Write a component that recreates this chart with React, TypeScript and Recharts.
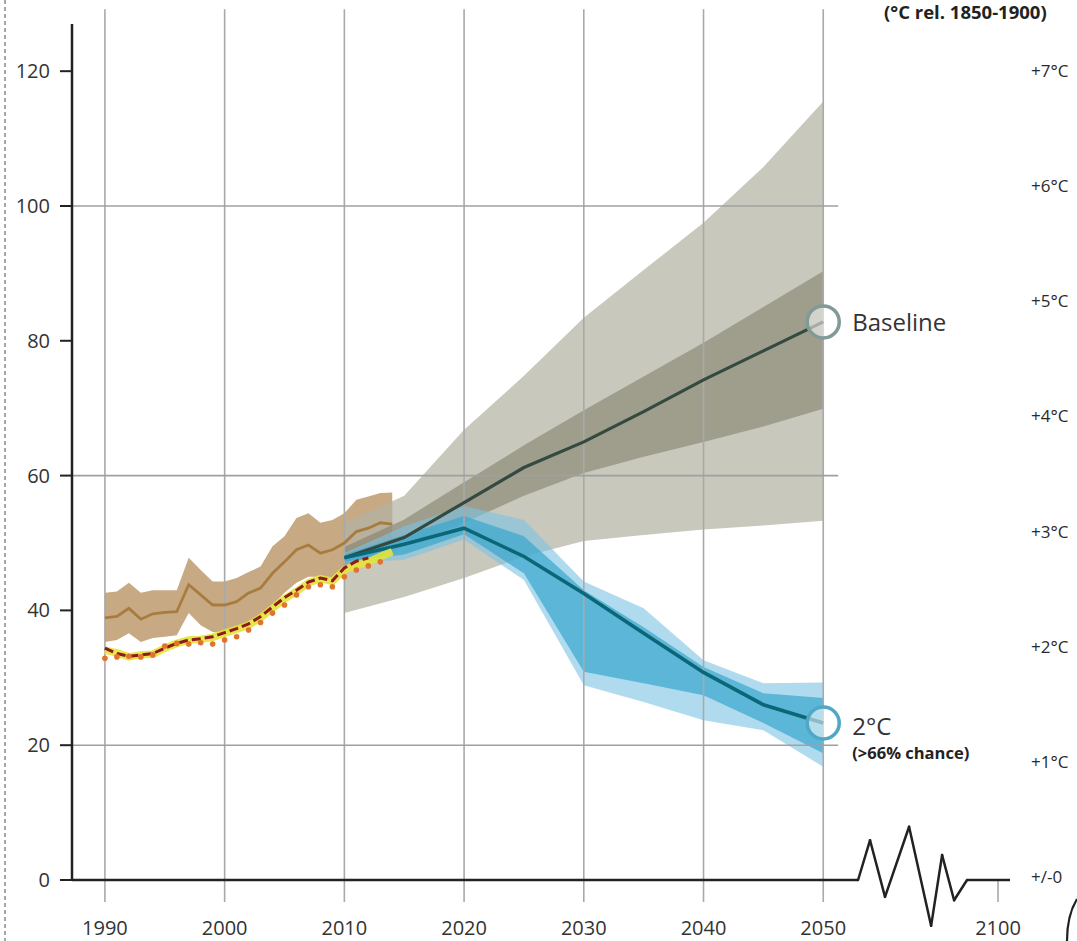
import React from "react";
import {
  ComposedChart,
  Area,
  Line,
  XAxis,
  YAxis,
  ReferenceLine,
  ReferenceDot,
} from "recharts";

// ---------- data ----------
const histYears = [
  1990, 1991, 1992, 1993, 1994, 1995, 1996, 1997, 1998, 1999, 2000, 2001, 2002,
  2003, 2004, 2005, 2006, 2007, 2008, 2009, 2010, 2011, 2012, 2013, 2014,
];
const brownMid = [
  38.9, 39.1, 40.3, 38.7, 39.5, 39.7, 39.8, 43.8, 42.3, 40.8, 40.8, 41.3, 42.6,
  43.3, 45.5, 47.2, 49.0, 49.7, 48.5, 49.0, 50.0, 51.7, 52.2, 53.0, 52.8,
];
const brownUpper = [
  42.6, 42.8, 44.1, 42.6, 43.0, 43.0, 43.0, 47.8, 46.0, 44.3, 44.3, 44.8, 45.7,
  46.5, 49.5, 51.0, 53.7, 54.4, 53.0, 53.4, 54.4, 56.4, 56.9, 57.4, 57.5,
];
const brownLower = [
  35.3, 35.6, 36.6, 35.3, 35.9, 36.1, 36.3, 39.6, 37.8, 36.8, 36.6, 37.4, 38.3,
  39.1, 40.8, 42.6, 44.1, 45.0, 45.0, 44.8, 46.0, 47.0, 47.8, 48.3, 48.8,
];
const yellowSeries = [
  34.1, 33.7, 33.1, 33.4, 33.5, 34.4, 35.1, 35.6, 35.7, 36.0, 36.6, 37.2, 37.8,
  38.9, 40.3, 41.7, 42.8, 44.1, 44.7, 44.3, 46.0, 46.7, 47.2, 48.0, 48.7,
];
const redYears = [
  1990, 1991, 1992, 1993, 1994, 1995, 1996, 1997, 1998, 1999, 2000, 2001, 2002,
  2003, 2004, 2005, 2006, 2007, 2008, 2009, 2010, 2011, 2012,
];
const redSeries = [
  34.4, 33.6, 33.2, 33.4, 33.6, 34.4, 35.1, 35.6, 35.8, 36.1, 36.7, 37.3, 38.0,
  39.1, 40.5, 41.9, 43.0, 44.2, 44.8, 44.4, 46.3, 47.3, 47.8,
];
const dotYears = [
  1990, 1991, 1992, 1993, 1994, 1995, 1996, 1997, 1998, 1999, 2000, 2001, 2002,
  2003, 2004, 2005, 2006, 2007, 2008, 2009, 2010, 2011, 2012, 2013,
];
const dotSeries = [
  32.9, 33.1, 33.2, 33.1, 33.4, 34.7, 35.1, 35.0, 35.2, 35.0, 35.6, 36.1, 37.1,
  38.2, 39.6, 40.8, 42.3, 43.5, 43.8, 43.5, 45.0, 46.0, 46.6, 47.2,
];

const scenYears = [2010, 2015, 2020, 2025, 2030, 2035, 2040, 2045, 2050];
const baseMid = [47.8, 50.8, 56.0, 61.2, 65.0, 69.5, 74.2, 78.5, 82.8];
const baseOuterHi = [53.0, 57.0, 66.8, 74.8, 83.4, 90.5, 97.5, 105.8, 115.5];
const baseOuterLo = [39.6, 42.0, 44.8, 48.0, 50.3, 51.2, 52.0, 52.6, 53.3];
const baseInnerHi = [49.4, 53.5, 59.0, 64.5, 69.7, 74.7, 79.7, 85.0, 90.3];
const baseInnerLo = [46.8, 49.5, 53.0, 57.0, 60.4, 62.8, 65.0, 67.3, 69.9];

const twoMid = [47.8, 49.8, 52.2, 48.0, 42.5, 36.6, 30.8, 26.0, 23.3];
const twoOuterHi = [48.5, 52.5, 55.5, 53.4, 44.3, 40.3, 32.6, 29.2, 29.3];
const twoOuterLo = [47.0, 47.5, 50.5, 44.5, 28.9, 26.4, 23.7, 22.2, 16.8];
const twoInnerHi = [48.3, 51.2, 54.0, 51.0, 43.0, 37.5, 31.6, 27.7, 27.0];
const twoInnerLo = [47.2, 48.3, 51.3, 45.5, 30.9, 29.2, 27.4, 23.3, 18.8];

const xTicks = [1990, 2000, 2010, 2020, 2030, 2040, 2050, 2064.6];
const xTickLabels = ["1990", "2000", "2010", "2020", "2030", "2040", "2050", "2100"];
const yTicks = [0, 20, 40, 60, 80, 100, 120];
const gridYs = [20, 60, 100];
const tempTicks = [0, 1, 2, 3, 4, 5, 6, 7];

// axis break (zig-zag) in data units
const breakX = [2052.91, 2053.91, 2055.16, 2057.17, 2059.01, 2059.93, 2060.93, 2062.01];
const breakY = [0, 5.9, -2.5, 7.9, -6.8, 3.7, -3.0, 0];

// ---------- tables ----------
const histRows = histYears.map((year, i) => ({
  year,
  band: [brownLower[i], brownUpper[i]],
  mid: brownMid[i],
  yellow: yellowSeries[i],
}));
const redRows = redYears.map((year, i) => ({ year, v: redSeries[i] }));
const dotRows = dotYears.map((year, i) => ({ year, v: dotSeries[i] }));
const scenRows = scenYears.map((year, i) => ({
  year,
  bOuter: [baseOuterLo[i], baseOuterHi[i]],
  bInner: [baseInnerLo[i], baseInnerHi[i]],
  bMid: baseMid[i],
  tOuter: [twoOuterLo[i], twoOuterHi[i]],
  tInner: [twoInnerLo[i], twoInnerHi[i]],
  tMid: twoMid[i],
}));

const FONT = "'Open Sans', 'DejaVu Sans', sans-serif";
const X_MIN = 1987.25;
const X_MAX = 2065.6;
const GRID_TOP = 129.2;
const GRID_BOTTOM = -3.26;

function BaselineLabel(props: any) {
  const vb = props.viewBox || {};
  const x = vb.x + vb.width + 13;
  const y = vb.y + vb.height / 2;
  return (
    <text x={x} y={y} dy="0.36em" fill="#333" fontSize={24} fontFamily={FONT}>
      Baseline
    </text>
  );
}

function TwoLabel(props: any) {
  const vb = props.viewBox || {};
  const x = vb.x + vb.width + 13;
  const y = vb.y + vb.height / 2;
  return (
    <g>
      <text x={x} y={y + 3} dy="0.36em" fill="#333" fontSize={24} fontFamily={FONT}>
        2°C
      </text>
      <text x={x} y={y + 30} dy="0.36em" fill="#222" fontSize={16.5} fontWeight="bold" fontFamily={FONT}>
        (&gt;66% chance)
      </text>
    </g>
  );
}

export default function App() {
  const lines: React.ReactNode[] = [];
  xTicks.slice(0, 7).forEach((yr) => {
    lines.push(
      <ReferenceLine
        key={"vg" + yr}
        segment={[
          { x: yr, y: GRID_BOTTOM },
          { x: yr, y: GRID_TOP },
        ]}
        stroke="#a9a9a9"
        strokeWidth={1.6}
        ifOverflow="visible"
      />
    );
  });
  lines.push(
    <ReferenceLine
      key="tick2100"
      segment={[
        { x: xTicks[7], y: 0 },
        { x: xTicks[7], y: GRID_BOTTOM },
      ]}
      stroke="#a9a9a9"
      strokeWidth={1.6}
      ifOverflow="visible"
    />
  );
  gridYs.forEach((g) => {
    lines.push(
      <ReferenceLine
        key={"hg" + g}
        segment={[
          { x: X_MIN, y: g },
          { x: 2051.25, y: g },
        ]}
        stroke="#a0a0a0"
        strokeWidth={1.6}
        ifOverflow="visible"
      />
    );
  });

  const axisParts: React.ReactNode[] = [];
  axisParts.push(
    <ReferenceLine
      key="ax0"
      segment={[
        { x: X_MIN, y: 0 },
        { x: breakX[0], y: 0 },
      ]}
      stroke="#222"
      strokeWidth={2.5}
      ifOverflow="visible"
    />
  );
  for (let i = 0; i < breakX.length - 1; i++) {
    axisParts.push(
      <ReferenceLine
        key={"zz" + i}
        segment={[
          { x: breakX[i], y: breakY[i] },
          { x: breakX[i + 1], y: breakY[i + 1] },
        ]}
        stroke="#222"
        strokeWidth={2.5}
        strokeLinecap="round"
        ifOverflow="visible"
      />
    );
  }
  axisParts.push(
    <ReferenceLine
      key="ax1"
      segment={[
        { x: breakX[breakX.length - 1], y: 0 },
        { x: X_MAX, y: 0 },
      ]}
      stroke="#222"
      strokeWidth={2.5}
      ifOverflow="visible"
    />
  );

  return (
    <div style={{ position: "absolute", left: 0, top: 0, width: 1077, height: 941, background: "#fff" }}>
      <ComposedChart
        width={1077}
        height={941}
        margin={{ top: 24, right: 0, bottom: 0, left: 0 }}
      >
        <XAxis
          dataKey="year"
          type="number"
          domain={[X_MIN, X_MAX]}
          ticks={xTicks}
          interval={0}
          tickFormatter={(v: number) => xTickLabels[xTicks.indexOf(v)] ?? String(v)}
          axisLine={false}
          tickLine={false}
          tickSize={0}
          tickMargin={41}
          height={61}
          tick={{ fill: "#333", fontSize: 20, fontFamily: FONT }}
          allowDataOverflow
        />
        <YAxis
          type="number"
          domain={[0, 127]}
          ticks={yTicks}
          interval={0}
          width={72}
          tickSize={12}
          tickMargin={10}
          axisLine={{ stroke: "#222", strokeWidth: 2.5 }}
          tickLine={{ stroke: "#222", strokeWidth: 2 }}
          tick={{ fill: "#333", fontSize: 20, fontFamily: FONT }}
          allowDataOverflow
        />
        <YAxis
          yAxisId="t"
          orientation="right"
          type="number"
          domain={[-0.026, 7.408]}
          ticks={tempTicks}
          interval={0}
          width={67}
          tickSize={0}
          tickMargin={21}
          axisLine={false}
          tickLine={false}
          tickFormatter={(v: number) => (v === 0 ? "+/-0" : `+${v}°C`)}
          tick={{ fill: "#2a2a2a", fontSize: 17, fontFamily: FONT, textAnchor: "start" }}
          allowDataOverflow
        />
        {lines}

        <Area
          data={histRows}
          dataKey="band"
          type="linear"
          stroke="none"
          fill="#C4A57D"
          fillOpacity={0.95}
          isAnimationActive={false}
          activeDot={false}
        />

        <Area
          data={scenRows}
          dataKey="bOuter"
          type="linear"
          stroke="none"
          fill="#B3B3A4"
          fillOpacity={0.72}
          isAnimationActive={false}
          activeDot={false}
        />
        <Area
          data={scenRows}
          dataKey="bInner"
          type="linear"
          stroke="none"
          fill="#7E7C66"
          fillOpacity={0.55}
          isAnimationActive={false}
          activeDot={false}
        />
        <Area
          data={scenRows}
          dataKey="tOuter"
          type="linear"
          stroke="none"
          fill="#7CC3E2"
          fillOpacity={0.6}
          isAnimationActive={false}
          activeDot={false}
        />
        <Area
          data={scenRows}
          dataKey="tInner"
          type="linear"
          stroke="none"
          fill="#3AA8CF"
          fillOpacity={0.72}
          isAnimationActive={false}
          activeDot={false}
        />

        <Line
          data={histRows}
          dataKey="mid"
          type="linear"
          stroke="#A87C3E"
          strokeWidth={2.8}
          dot={false}
          activeDot={false}
          isAnimationActive={false}
        />
        <Line
          data={scenRows}
          dataKey="bMid"
          type="linear"
          stroke="#34493F"
          strokeWidth={3.2}
          dot={false}
          activeDot={false}
          isAnimationActive={false}
        />
        <Line
          data={scenRows}
          dataKey="tMid"
          type="linear"
          stroke="#0B6777"
          strokeWidth={3.6}
          dot={false}
          activeDot={false}
          isAnimationActive={false}
        />
        <Line
          data={histRows}
          dataKey="yellow"
          type="linear"
          stroke="#E4E43A"
          strokeWidth={7.5}
          strokeOpacity={0.9}
          dot={false}
          activeDot={false}
          isAnimationActive={false}
        />
        <Line
          data={redRows}
          dataKey="v"
          type="linear"
          stroke="#8E1B1B"
          strokeWidth={3}
          strokeDasharray="9 4"
          dot={false}
          activeDot={false}
          isAnimationActive={false}
        />
        <Line
          data={dotRows}
          dataKey="v"
          type="linear"
          stroke="none"
          dot={{ r: 2.8, fill: "#E0742E", stroke: "none" }}
          activeDot={false}
          isAnimationActive={false}
        />

        {axisParts}

        <ReferenceDot
          x={2050}
          y={baseMid[baseMid.length - 1]}
          r={16}
          fill="#ffffff"
          fillOpacity={0.55}
          stroke="#7F9A97"
          strokeWidth={3.5}
          ifOverflow="visible"
          label={<BaselineLabel />}
        />
        <ReferenceDot
          x={2050}
          y={twoMid[twoMid.length - 1]}
          r={16}
          fill="#ffffff"
          fillOpacity={0.55}
          stroke="#4FA8C6"
          strokeWidth={3.5}
          ifOverflow="visible"
          label={<TwoLabel />}
        />
      </ComposedChart>
      <svg
        width={1077}
        height={941}
        style={{ position: "absolute", left: 0, top: 0, pointerEvents: "none" }}
      >
        <line x1={5} y1={0} x2={5} y2={941} stroke="#8a8a8a" strokeWidth={1.5} strokeDasharray="4 3" />
        <text x={884} y={19} fill="#222" fontSize={18.5} fontWeight="bold" fontFamily={FONT}>
          (°C rel. 1850-1900)
        </text>
        <path d="M1077,899 Q1067,915 1067,941" stroke="#222" strokeWidth={2.2} fill="none" />
      </svg>
    </div>
  );
}
